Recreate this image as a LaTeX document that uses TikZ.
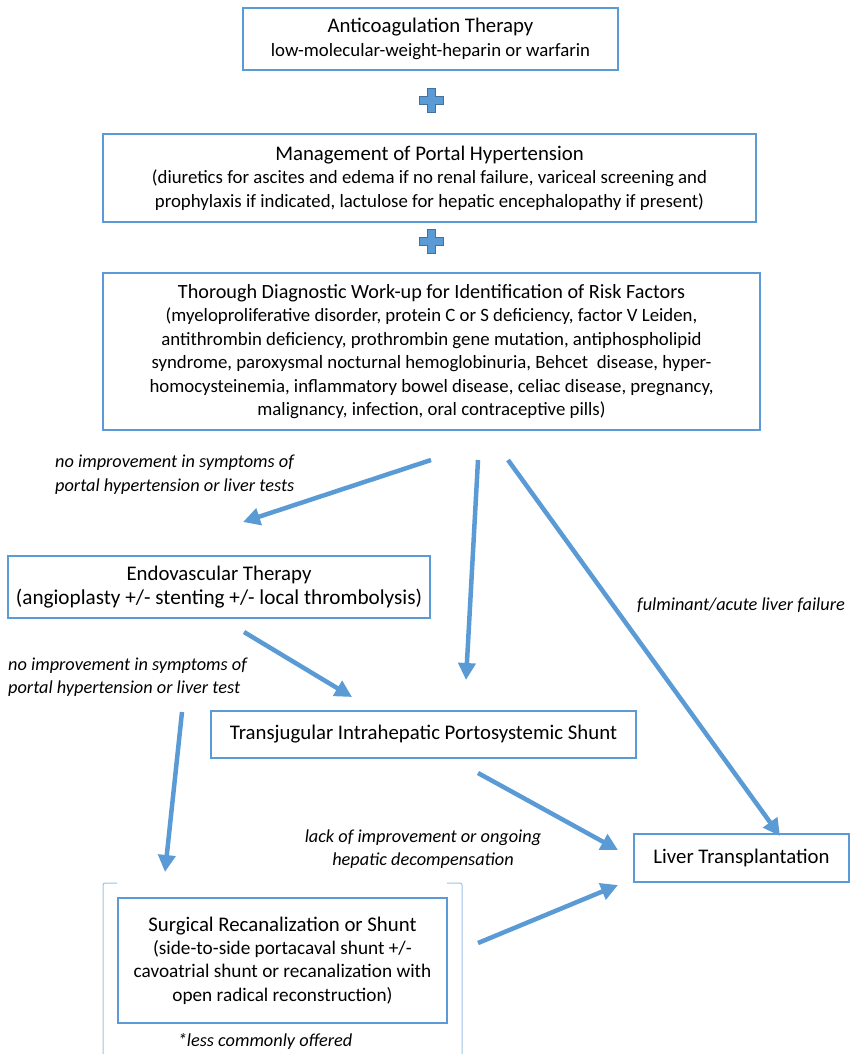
\documentclass[tikz,border=0pt]{standalone}
\usepackage{fontspec}
\setmainfont{Carlito}
\usetikzlibrary{arrows.meta,positioning}
\definecolor{pfeilblau}{HTML}{5B9BD5}
\definecolor{randblau}{HTML}{41719C}
\definecolor{klammerblau}{HTML}{9DC3E6}
\newcommand{\titelschrift}{\fontsize{20.8}{24}\selectfont}

\begin{document}
\begin{tikzpicture}[x=1pt,y=-1pt,
		box/.style={draw=pfeilblau, line width=1.3pt, rectangle, align=center, inner sep=0pt,
			font=\fontsize{18.8}{23.5}\selectfont},
		grossbox/.style={box, font=\fontsize{21.2}{23.2}\selectfont},
		notiz/.style={inner sep=0pt, font=\fontsize{18.3}{23.5}\selectfont\itshape},
		pfeil/.style={draw=pfeilblau, line width=4.5pt, -{Triangle[length=17pt,width=17pt]}},
		pluszeichen/.pic={
			\draw[fill=pfeilblau, draw=randblau, line width=1pt]
			(-4,-12) -- (4,-12) -- (4,-4) -- (12,-4) -- (12,4) -- (4,4) -- (4,12)
			-- (-4,12) -- (-4,4) -- (-12,4) -- (-12,-4) -- (-4,-4) -- cycle;}]
		\useasboundingbox (0,0) rectangle (852,1054);
		% nodes
		
		\node[box, minimum width=375pt, minimum height=62pt] (antikoag) at (430.5,39)
		{{\titelschrift Anticoagulation Therapy}\\low-molecular-weight-heparin or warfarin};
		
		\pic at (431,101) {pluszeichen};
		
		\node[box, minimum width=653pt, minimum height=88pt] (portal) at (429.5,178)
		{{\titelschrift Management of Portal Hypertension}\\
			(diuretics for ascites and edema if no renal failure, variceal screening and\\
			prophylaxis if indicated, lactulose for hepatic encephalopathy if present)};
		
		\pic at (431,241) {pluszeichen};
		
		\node[box, minimum width=657pt, minimum height=157pt] (diagnose) at (431.5,351.5)
		{{\fontsize{20.2}{24}\selectfont Thorough Diagnostic Work-up for Identification of Risk Factors}\\
			(myeloproliferative disorder, protein C or S deficiency, factor V Leiden,\\
			antithrombin deficiency, prothrombin gene mutation, antiphospholipid\\
			syndrome, paroxysmal nocturnal hemoglobinuria, Behcet\ \ disease, hyper-\\
			homocysteinemia, inflammatory bowel disease, celiac disease, pregnancy,\\
			malignancy, infection, oral contraceptive pills)};
		
		\node[grossbox, minimum width=422pt, minimum height=62pt] (endo) at (219,587)
		{{\titelschrift Endovascular Therapy}\\(angioplasty +/- stenting +/- local thrombolysis)};
		
		\node[box, minimum width=425pt, minimum height=47pt] (tips) at (423.5,734.5)
		{{\titelschrift Transjugular Intrahepatic Portosystemic Shunt}};
		
		\node[box, minimum width=215pt, minimum height=48pt] (ltx) at (741.5,858)
		{{\titelschrift Liver Transplantation}};
		
		\node[box, font=\fontsize{19.25}{23.3}\selectfont, minimum width=329pt, minimum height=125pt]
		(chirurgie) at (282.5,960.5)
		{{\titelschrift Surgical Recanalization or Shunt}\\
			(side-to-side portacaval shunt +/-\\
			cavoatrial shunt or recanalization with\\
			open radical reconstruction)};
		
		% Klammer um die Chirurgie
		\draw[klammerblau, line width=1pt, rounded corners=2pt]
		(117,883) -- (103,883) -- (103,1056);
		\draw[klammerblau, line width=1pt, rounded corners=2pt]
		(447,883) -- (462,883) -- (462,1056);
		
		% Beschriftungen
		\node[notiz, anchor=west, align=left] (keinebesserung) at (55,474.5)
		{no improvement in symptoms of\\portal hypertension or liver tests};
		\node[notiz, anchor=west] (fulminant) at (637,605) {fulminant/acute liver failure};
		\node[notiz, anchor=west, align=left] (keinebesserungzwei) at (8,677)
		{no improvement in symptoms of\\portal hypertension or liver test};
		\node[notiz, align=center] (dekomp) at (423,849)
		{lack of improvement or ongoing\\hepatic decompensation};
		\node[notiz] (selten) at (265,1041) {*less commonly offered};
		
		% Pfeilenden
		\coordinate (d1) at (431,460);
		\coordinate (d2) at (478,460);
		\coordinate (d3) at (508,460);
		\coordinate (e1) at (243,522);
		\coordinate (t1) at (466,680);
		\coordinate (l1) at (780,836);
		\coordinate (e2) at (244,632);
		\coordinate (t2) at (352,697);
		\coordinate (e3) at (182,712);
		\coordinate (c1) at (165,872);
		\coordinate (t3) at (478,773);
		\coordinate (l2) at (618,850);
		\coordinate (c2) at (478,943);
		\coordinate (l3) at (618,885);
		
		\draw[pfeil] (d1) -- (e1);
		\draw[pfeil] (d2) -- (t1);
		\draw[pfeil] (d3) -- (l1);
		\draw[pfeil] (e2) -- (t2);
		\draw[pfeil] (e3) -- (c1);
		\draw[pfeil] (t3) -- (l2);
		\draw[pfeil] (c2) -- (l3);
\end{tikzpicture}
\end{document}
